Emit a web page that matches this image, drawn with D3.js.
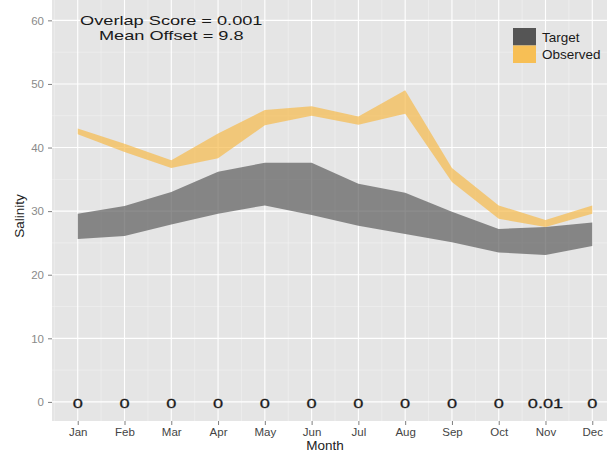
<!DOCTYPE html>
<html>
<head>
<meta charset="utf-8">
<script src="https://cdn.jsdelivr.net/npm/d3@7"></script>
<style>
  body { margin: 0; background: #fff; }
  svg { display: block; font-family: "Liberation Sans", Arial, sans-serif; }
</style>
</head>
<body>
<svg id="chart" width="607" height="452"></svg>
<script>

// values
const months = ["Jan", "Feb", "Mar", "Apr", "May", "Jun", "Jul", "Aug", "Sep", "Oct", "Nov", "Dec"];
const targetLow = [25.6, 26.1, 27.9, 29.6, 30.9, 29.4, 27.7, 26.4, 25.1, 23.5, 23.1, 24.5];
const targetHigh = [29.6, 30.8, 33.0, 36.2, 37.6, 37.6, 34.3, 32.9, 29.9, 27.2, 27.5, 28.2];
const observedLow = [42.1, 39.3, 36.8, 38.3, 43.5, 45.0, 43.6, 45.3, 34.6, 28.8, 27.5, 29.6];
const observedHigh = [43.0, 40.6, 38.0, 42.2, 45.9, 46.5, 44.9, 49.0, 36.8, 30.9, 28.6, 30.9];
const monthlyOverlap = ["0", "0", "0", "0", "0", "0", "0", "0", "0", "0", "0.01", "0"];
const yTicks = [0, 10, 20, 30, 40, 50, 60];
const annotation = ["Overlap Score = 0.001", "Mean Offset = 9.8"];
const seriesNames = ["Target", "Observed"];
const seriesColors = ["#5c5c5c", "#f6ba4c"];

const svg = d3.select("#chart");

const panel = {left: 52, right: 618, top: 0, bottom: 421};

// continuous x (1..12) with ggplot's 5% expansion
const x = d3.scaleLinear()
    .domain([1 - 0.55, 12 + 0.55])
    .range([panel.left, panel.right]);

const y = d3.scaleLinear()
    .domain([-3, 63.2])
    .range([panel.bottom, panel.top]);

svg.append("rect")
    .attr("x", panel.left)
    .attr("y", panel.top)
    .attr("width", panel.right - panel.left)
    .attr("height", panel.bottom - panel.top)
    .attr("fill", "#e5e5e5");

const grid = svg.append("g");

// minor grid
const xMinor = d3.range(0.5, 13, 1);
const yMinor = d3.range(5, 60, 10);

grid.selectAll(".xminor").data(xMinor).enter().append("line")
    .attr("x1", d => x(d)).attr("x2", d => x(d))
    .attr("y1", panel.top).attr("y2", panel.bottom)
    .attr("stroke", "#f2f2f2").attr("stroke-width", 0.6);

grid.selectAll(".yminor").data(yMinor).enter().append("line")
    .attr("x1", panel.left).attr("x2", panel.right)
    .attr("y1", d => y(d)).attr("y2", d => y(d))
    .attr("stroke", "#f2f2f2").attr("stroke-width", 0.6);

// major grid
grid.selectAll(".xmajor").data(d3.range(1, 13)).enter().append("line")
    .attr("x1", d => x(d)).attr("x2", d => x(d))
    .attr("y1", panel.top).attr("y2", panel.bottom)
    .attr("stroke", "#fff").attr("stroke-width", 1.1);

grid.selectAll(".ymajor").data(yTicks).enter().append("line")
    .attr("x1", panel.left).attr("x2", panel.right)
    .attr("y1", d => y(d)).attr("y2", d => y(d))
    .attr("stroke", "#fff").attr("stroke-width", 1.1);

// ribbons
const area = d3.area()
    .x((d, i) => x(i + 1))
    .y0(d => y(d[0]))
    .y1(d => y(d[1]));

const ribbons = [
    d3.zip(targetLow, targetHigh),
    d3.zip(observedLow, observedHigh)
];

svg.selectAll(".ribbon").data(ribbons).enter().append("path")
    .attr("class", "ribbon")
    .attr("d", area)
    .attr("fill", (d, i) => seriesColors[i])
    .attr("fill-opacity", 0.7);

// per month overlap numbers, stretched like the original device
svg.selectAll(".overlap").data(monthlyOverlap).enter().append("text")
    .attr("transform", (d, i) => `translate(${x(i + 1)},${y(0) + 6.5}) scale(1.35,1)`)
    .attr("text-anchor", "middle")
    .attr("font-size", 13.5)
    .attr("fill", "#1a1a1a")
    .attr("stroke", "#1a1a1a")
    .attr("stroke-width", 0.25)
    .text(d => d);

// annotation at the top
const note = svg.append("g")
    .attr("transform", `translate(${x(3)},0) scale(1.4,1)`);

note.selectAll("text").data(annotation).enter().append("text")
    .attr("x", 0)
    .attr("y", (d, i) => 25 + i * 14.6)
    .attr("text-anchor", "middle")
    .attr("font-size", 13)
    .attr("fill", "#1a1a1a")
    .text(d => d);

// axes
const yAxis = svg.append("g")
    .attr("transform", `translate(${panel.left},0)`)
    .call(d3.axisLeft(y).tickValues(yTicks).tickSize(4).tickPadding(4));

yAxis.select(".domain").remove();
yAxis.selectAll("line").attr("stroke", "#7f7f7f");
yAxis.selectAll("text").attr("fill", "#8a8a8a").attr("font-size", 11.5)
    .attr("font-family", "Liberation Sans, Arial, sans-serif");

const xAxis = svg.append("g")
    .attr("transform", `translate(0,${panel.bottom})`)
    .call(d3.axisBottom(x).tickValues(d3.range(1, 13)).tickFormat(d => months[d - 1])
        .tickSize(4).tickPadding(3));

xAxis.select(".domain").remove();
xAxis.selectAll("line").attr("stroke", "#7f7f7f");
xAxis.selectAll("text").attr("fill", "#444").attr("font-size", 11.5)
    .attr("font-family", "Liberation Sans, Arial, sans-serif");

svg.append("text")
    .attr("x", 325)
    .attr("y", 450)
    .attr("text-anchor", "middle")
    .attr("font-size", 13.5)
    .attr("fill", "#222")
    .text("Month");

svg.append("text")
    .attr("transform", "translate(24,216) rotate(-90)")
    .attr("text-anchor", "middle")
    .attr("font-size", 13.5)
    .attr("fill", "#222")
    .text("Salinity");

// legend
const legend = svg.append("g").attr("transform", "translate(513,28)");

legend.selectAll("rect").data(seriesNames).enter().append("rect")
    .attr("x", 0)
    .attr("y", (d, i) => i * 17.5)
    .attr("width", 23)
    .attr("height", 17.5)
    .attr("fill", (d, i) => i === 0 ? "#555555" : "#f7bf55");

legend.selectAll("text").data(seriesNames).enter().append("text")
    .attr("x", 29)
    .attr("y", (d, i) => i * 17.5 + 13.5)
    .attr("font-size", 13.5)
    .attr("fill", "#1a1a1a")
    .text(d => d);

</script>
</body>
</html>
